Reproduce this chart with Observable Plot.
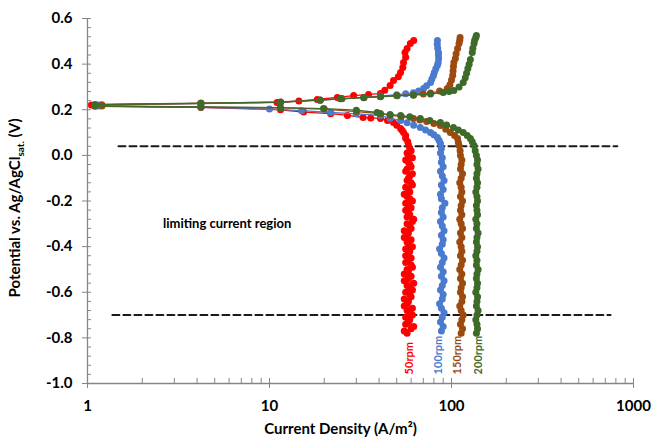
<!DOCTYPE html>
<html><head><meta charset="utf-8">
<script src="https://cdn.jsdelivr.net/npm/d3@7"></script>
<script src="https://cdn.jsdelivr.net/npm/@observablehq/plot@0.6"></script>
<style>body{margin:0;background:#fff} #chart svg{font-family:Lato,"Open Sans",sans-serif;overflow:visible}</style>
</head><body><div id="chart"></div>
<script>
// ---- data: [current density (A/m2), potential (V)] in sweep order ----
const rpm50 = [[57,-0.78],[55,-0.77],[60,-0.76],[62,-0.75],[56,-0.74],[58,-0.73],[59,-0.72],[56,-0.71],[61,-0.70],[59,-0.69],[57,-0.68],[61,-0.67],[55,-0.66],[57,-0.65],[58,-0.64],[55,-0.63],[60,-0.62],[59,-0.61],[56,-0.60],[61,-0.59],[59,-0.58],[57,-0.57],[62,-0.56],[55,-0.55],[58,-0.54],[60,-0.53],[55,-0.52],[58,-0.51],[57,-0.50],[61,-0.49],[60,-0.48],[56,-0.47],[58,-0.46],[60,-0.45],[56,-0.44],[58,-0.43],[59,-0.42],[56,-0.41],[61,-0.40],[58,-0.39],[57,-0.38],[60,-0.37],[55,-0.36],[57,-0.35],[58,-0.34],[55,-0.33],[60,-0.32],[59,-0.31],[57,-0.30],[61,-0.29],[62,-0.28],[57,-0.27],[59,-0.26],[58,-0.25],[56,-0.24],[60,-0.23],[58,-0.22],[56,-0.21],[61,-0.20],[59,-0.19],[57,-0.18],[55,-0.17],[59,-0.16],[58,-0.15],[56,-0.14],[61,-0.13],[60,-0.12],[57,-0.11],[58,-0.10],[59,-0.09],[61,-0.08],[56,-0.07],[57,-0.06],[60,-0.05],[59,-0.04],[58,-0.03],[56,-0.02],[61,-0.01],[58,0.00],[57,0.01],[60,0.02],[59,0.03],
 [58,0.045],[57.5,0.06],[56,0.075],[56,0.087],[54.5,0.10],[53.5,0.11],[52.5,0.118],[50,0.132],[48,0.144],[44.5,0.153],[40.7,0.162],[36,0.164],[32.7,0.166],[26.8,0.175],[21.7,0.183],[15.4,0.19],[11.5,0.20],[4.2,0.211],[1.1,0.215],
 [1.05,0.221],[4.2,0.228],[11,0.232],[14.5,0.238],[18.3,0.245],[23.6,0.254],[29,0.262],[35,0.267],[40.7,0.271],[43,0.285],[46,0.306],[48,0.328],[51,0.345],[52.5,0.363],[54,0.385],[54.5,0.407],[56,0.43],[55.5,0.451],[57,0.468],[59.4,0.49],[62,0.504]];
const rpm100 = [[88,-0.77],[90,-0.75],[87,-0.73],[89,-0.71],[91,-0.69],[88,-0.67],[86,-0.65],[89,-0.63],[90,-0.61],[87,-0.59],[89,-0.57],[91,-0.55],[88,-0.53],[90,-0.51],[87,-0.49],[89,-0.47],[91,-0.45],[88,-0.43],[86,-0.41],[89,-0.39],[90,-0.37],[88,-0.35],[91,-0.33],[89,-0.31],[87,-0.29],[90,-0.27],[88,-0.25],[89,-0.23],[92,-0.21],[88,-0.19],[87,-0.17],[90,-0.15],[88,-0.13],[91,-0.11],[89,-0.09],[87,-0.07],[90,-0.05],[88,-0.03],[89,-0.01],[87,0.01],[88,0.03],
 [87,0.052],[85.5,0.065],[83.7,0.078],[80,0.09],[76.7,0.10],[72,0.111],[67.4,0.122],[62,0.132],[57,0.143],[52.5,0.153],[46,0.162],[40.7,0.175],[30,0.182],[21.7,0.188],[15,0.196],[10,0.203],[4.2,0.211],[1.15,0.216],
 [1.15,0.221],[4.2,0.227],[11.5,0.233],[19,0.242],[25,0.248],[33,0.254],[40.7,0.26],[50,0.266],[56,0.27],[61.8,0.275],[66,0.282],[70.2,0.293],[73,0.305],[76.7,0.319],[78,0.335],[79.6,0.35],[80.5,0.363],[82,0.38],[83.7,0.395],[84.5,0.407],[85,0.425],[84.8,0.44],[84.8,0.451],[84,0.47],[83.5,0.487],[83.7,0.504]];
const rpm150 = [[113,-0.78],[115,-0.76],[112,-0.74],[114,-0.72],[116,-0.70],[113,-0.68],[111,-0.66],[114,-0.64],[115,-0.62],[112,-0.60],[113,-0.58],[115,-0.56],[112,-0.54],[114,-0.52],[111,-0.50],[113,-0.48],[115,-0.46],[112,-0.44],[114,-0.42],[113,-0.40],[111,-0.38],[114,-0.36],[112,-0.34],[115,-0.32],[113,-0.30],[111,-0.28],[114,-0.26],[112,-0.24],[113,-0.22],[115,-0.20],[112,-0.18],[114,-0.16],[113,-0.14],[111,-0.12],[113,-0.10],[115,-0.08],[112,-0.06],[113,-0.04],[114,-0.02],[112,0.00],[111.5,0.02],
 [110,0.043],[109,0.058],[108,0.074],[104,0.087],[98.5,0.10],[93,0.115],[86.9,0.131],[80,0.14],[73,0.148],[67,0.155],[61.8,0.162],[53,0.17],[46,0.176],[40.7,0.183],[30,0.192],[20,0.203],[11.5,0.208],[4.2,0.211],[1.2,0.216],
 [1.2,0.222],[4.2,0.228],[11.5,0.234],[19,0.243],[25,0.249],[33,0.254],[40.7,0.258],[50,0.262],[61.8,0.266],[70,0.269],[76.7,0.273],[86,0.282],[94.8,0.293],[98,0.31],[100,0.33],[101.5,0.35],[102,0.37],[102.5,0.39],[103,0.407],[105,0.425],[106,0.445],[108,0.469],[110,0.49],[111,0.505],[111.5,0.517]];
const rpm200 = [[137,-0.78],[139,-0.76],[138,-0.74],[136,-0.72],[138,-0.70],[140,-0.68],[137,-0.66],[138,-0.64],[139,-0.62],[136,-0.60],[138,-0.58],[139,-0.56],[137,-0.54],[138,-0.52],[140,-0.50],[137,-0.48],[138,-0.46],[136,-0.44],[138,-0.42],[139,-0.40],[137,-0.38],[138,-0.36],[140,-0.34],[137,-0.32],[138,-0.30],[136,-0.28],[139,-0.26],[138,-0.24],[137,-0.22],[139,-0.20],[138,-0.18],[136,-0.16],[138,-0.14],[139,-0.12],[137,-0.10],[138,-0.08],[140,-0.06],[138,-0.04],[139,-0.02],[137,0.00],[135,0.02],
 [133,0.043],[130,0.06],[127,0.074],[122,0.087],[116,0.10],[109,0.111],[102.5,0.122],[94,0.133],[86.9,0.144],[76,0.153],[67.4,0.162],[59,0.169],[52.5,0.175],[46,0.179],[40.7,0.183],[39,0.188],[30,0.198],[19.8,0.205],[11.5,0.209],[4.2,0.212],[1.1,0.217],
 [1.1,0.223],[4.2,0.229],[11.5,0.233],[19,0.242],[24.5,0.248],[33,0.253],[40.7,0.257],[50.3,0.261],[61.8,0.264],[76.7,0.269],[90,0.276],[97,0.28],[103,0.284],[110,0.30],[116,0.319],[119,0.34],[121,0.36],[123,0.381],[125,0.40],[127,0.42],[130,0.451],[131,0.47],[133,0.49],[134,0.505],[136,0.517],[137,0.525]];

const seriesLabels = ["50rpm","100rpm","150rpm","200rpm"];
const seriesColors = ["#ff0000","#4a7bcf","#9c4a0e","#3e6a2a"];
const labelX = [58.8, 84.9, 107.9, 140.7];   // label position (A/m2)
const labelY = -0.96;
const yTicks = [-1.0,-0.8,-0.6,-0.4,-0.2,0.0,0.2,0.4,0.6];
const yMinor = d3.range(0, 41).map(i => +(-1 + i*0.04).toFixed(2));
const xTicks = [1,10,100,1000];
const xMinor = [1,2,3,4,5,6,7,8,9,10,20,30,40,50,60,70,80,90,100,200,300,400,500,600,700,800,900,1000];
const dashLines = [
  {level: 0.04, from: 1.48, to: 815},
  {level: -0.70, from: 1.37, to: 748}
];
const regionText = {text: "limiting current region", x: 2.6, y: -0.30};

const allSeries = [rpm50, rpm100, rpm150, rpm200];
const axisGray = "#868686";

const marks = [];
dashLines.forEach(d => marks.push(Plot.line([[d.from, d.level],[d.to, d.level]],
  {x: p => p[0], y: p => p[1], stroke: "#1a1a1a", strokeWidth: 2, strokeDasharray: "7,4"})));
allSeries.forEach((s, i) => {
  marks.push(Plot.line(s, {x: d => d[0], y: d => d[1], stroke: seriesColors[i], strokeWidth: 1.3}));
  marks.push(Plot.dot(s, {x: d => d[0], y: d => d[1], r: 3.5, fill: seriesColors[i], stroke: null}));
});
marks.push(Plot.ruleX([1], {stroke: axisGray, strokeWidth: 1.3}));
marks.push(Plot.ruleY([-1], {stroke: axisGray, strokeWidth: 1.3}));
marks.push(Plot.axisY({ticks: yTicks, tickSize: 5, tickPadding: 10, tickFormat: d => d.toFixed(1),
  stroke: axisGray, fontSize: 15, fontWeight: "bold", fill: "#000", label: null}));
marks.push(Plot.axisY({ticks: yMinor, tickSize: -4, tickFormat: () => "", stroke: axisGray, label: null}));
marks.push(Plot.axisX({ticks: xTicks, tickSize: 5, tickPadding: 12, tickFormat: d => String(d),
  stroke: axisGray, fontSize: 15, fontWeight: "bold", fill: "#000", label: null}));
marks.push(Plot.axisX({ticks: xMinor, tickSize: -5, tickFormat: () => "", stroke: axisGray, label: null}));
marks.push(Plot.text([regionText], {x: "x", y: "y", text: "text", textAnchor: "start",
  fontSize: 13, fontWeight: "bold", fill: "#000"}));
marks.push(Plot.text(seriesLabels, {x: (d, i) => labelX[i], y: () => labelY, text: d => d,
  rotate: -90, textAnchor: "start", fontSize: 11, fontWeight: "bold", fill: (d, i) => seriesColors[i]}));
marks.push(Plot.text(["Current Density (A/m²)"], {frameAnchor: "bottom", dy: 50, dx: -20,
  fontSize: 15, fontWeight: "bold", fill: "#000"}));

const chart = Plot.plot({
  width: 652, height: 437,
  marginLeft: 87, marginRight: 19, marginTop: 18, marginBottom: 54,
  x: {type: "log", domain: [1, 1000]},
  y: {domain: [-1, 0.6]},
  style: {background: "#fff", color: "#000"},
  marks
});
const svg = d3.select(chart);
const yl = svg.append("text")
  .attr("transform", "translate(20,208) rotate(-90)")
  .attr("text-anchor", "middle")
  .attr("font-size", 15).attr("font-weight", "bold").attr("fill", "#000");
yl.append("tspan").text("Potential vs. Ag/AgCl");
yl.append("tspan").attr("font-size", 10).attr("dy", 4).text("sat.");
yl.append("tspan").attr("dy", -4).text(" (V)");
document.getElementById("chart").appendChild(chart);
</script></body></html>
